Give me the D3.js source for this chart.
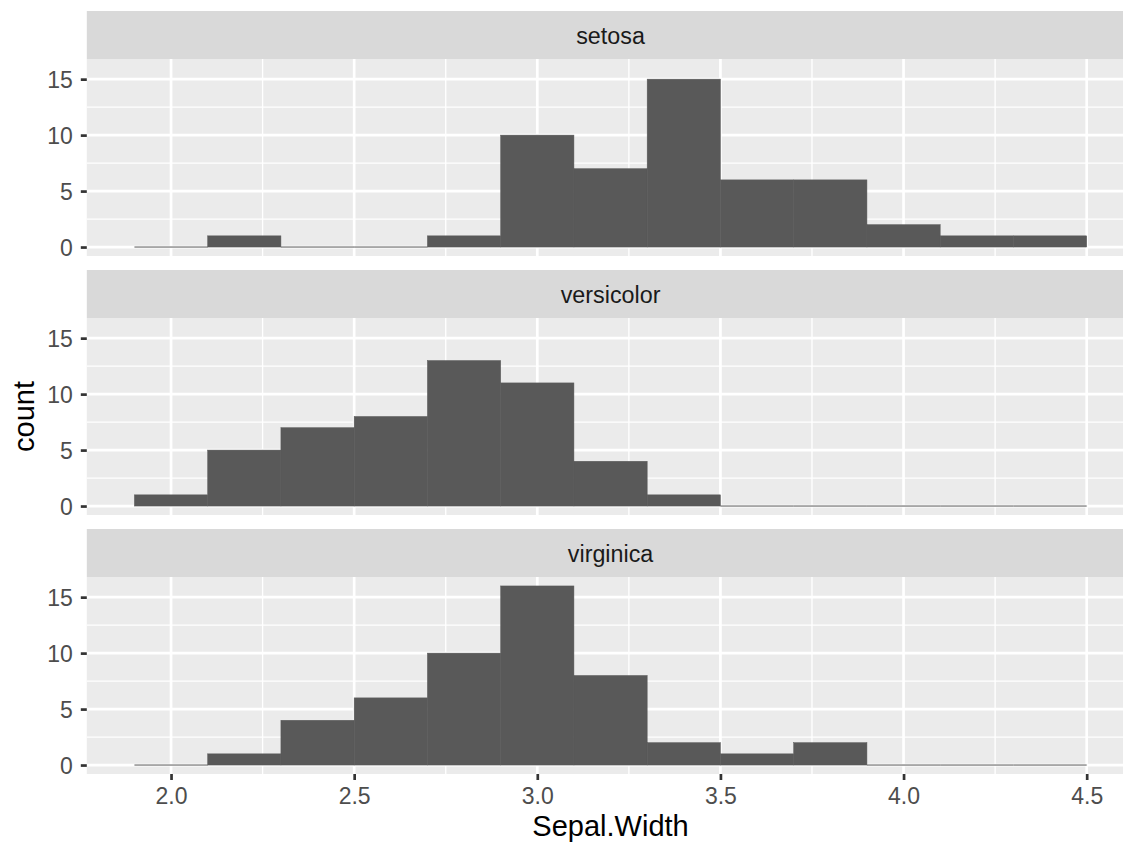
<!DOCTYPE html>
<html>
<head>
<meta charset="utf-8">
<script src="https://cdn.jsdelivr.net/npm/d3@7"></script>
<style>
  body { margin: 0; background: #fff; }
  svg { display: block; font-family: "Liberation Sans", Arial, sans-serif; }
</style>
</head>
<body>
<div id="chart"></div>
<script>
// histogram bins (width 0.2) and counts per species
const breaks = [1.9, 2.1, 2.3, 2.5, 2.7, 2.9, 3.1, 3.3, 3.5, 3.7, 3.9, 4.1, 4.3, 4.5];
const species = ["setosa", "versicolor", "virginica"];
const setosa     = [0, 1, 0, 0, 1, 10, 7, 15, 6, 6, 2, 1, 1];
const versicolor = [1, 5, 7, 8, 13, 11, 4, 1, 0, 0, 0, 0, 0];
const virginica  = [0, 1, 4, 6, 10, 16, 8, 2, 1, 2, 0, 0, 0];
const xTicks = [2.0, 2.5, 3.0, 3.5, 4.0, 4.5];
const yTicks = [0, 5, 10, 15];

const counts = { setosa: setosa, versicolor: versicolor, virginica: virginica };

const width = 1123, height = 843;
const panelLeft = 86.8, panelRight = 1134.3;
const stripH = 48, panelH = 197, gap = 14, marginTop = 11;
const panelMid = (panelLeft + panelRight) / 2;

const x = d3.scaleLinear().domain([1.77, 4.63]).range([panelLeft, panelRight]);

const svg = d3.select("#chart").append("svg")
    .attr("width", width)
    .attr("height", height);

species.forEach(function(name, i) {
  const stripTop = marginTop + i * (stripH + panelH + gap);
  const pTop = stripTop + stripH;
  const pBottom = pTop + panelH;
  const y = d3.scaleLinear().domain([-0.8, 16.8]).range([pBottom, pTop]);

  // strip
  svg.append("rect")
    .attr("x", panelLeft).attr("y", stripTop)
    .attr("width", panelRight - panelLeft).attr("height", stripH)
    .attr("fill", "#D9D9D9");
  svg.append("text")
    .attr("x", panelMid)
    .attr("y", stripTop + stripH / 2 + 8.5)
    .attr("text-anchor", "middle")
    .attr("font-size", 23.3)
    .attr("fill", "#1A1A1A")
    .text(name);

  // panel background
  svg.append("rect")
    .attr("x", panelLeft).attr("y", pTop)
    .attr("width", panelRight - panelLeft).attr("height", panelH)
    .attr("fill", "#EBEBEB");

  const g = svg.append("g");
  // minor grid
  const xMinor = [1.75, 2.25, 2.75, 3.25, 3.75, 4.25, 4.75].filter(d => d > 1.77 && d < 4.63);
  const yMinor = [2.5, 7.5, 12.5];
  g.selectAll(".xminor").data(xMinor).enter().append("line")
    .attr("x1", d => x(d)).attr("x2", d => x(d))
    .attr("y1", pTop).attr("y2", pBottom)
    .attr("stroke", "#fff").attr("stroke-width", 1.35);
  g.selectAll(".yminor").data(yMinor).enter().append("line")
    .attr("x1", panelLeft).attr("x2", panelRight)
    .attr("y1", d => y(d)).attr("y2", d => y(d))
    .attr("stroke", "#fff").attr("stroke-width", 1.35);
  // major grid
  g.selectAll(".xmajor").data(xTicks).enter().append("line")
    .attr("x1", d => x(d)).attr("x2", d => x(d))
    .attr("y1", pTop).attr("y2", pBottom)
    .attr("stroke", "#fff").attr("stroke-width", 2.7);
  g.selectAll(".ymajor").data(yTicks).enter().append("line")
    .attr("x1", panelLeft).attr("x2", panelRight)
    .attr("y1", d => y(d)).attr("y2", d => y(d))
    .attr("stroke", "#fff").attr("stroke-width", 2.7);

  // bars
  const bins = counts[name].map((c, j) => ({ x0: breaks[j], x1: breaks[j + 1], count: c }));
  g.selectAll(".bar").data(bins.filter(d => d.count > 0)).enter().append("rect")
    .attr("x", d => x(d.x0))
    .attr("width", d => x(d.x1) - x(d.x0))
    .attr("y", d => y(d.count))
    .attr("height", d => y(0) - y(d.count))
    .attr("fill", "#595959")
    .attr("stroke", "#595959")
    .attr("stroke-width", 0.5);
  g.selectAll(".zero").data(bins.filter(d => d.count === 0)).enter().append("line")
    .attr("x1", d => x(d.x0)).attr("x2", d => x(d.x1))
    .attr("y1", y(0)).attr("y2", y(0))
    .attr("stroke", "#595959").attr("stroke-width", 1);

  // y axis
  const ya = svg.append("g")
    .attr("transform", "translate(" + panelLeft + ",0)")
    .call(d3.axisLeft(y).tickValues(yTicks).tickSize(6).tickPadding(8).tickFormat(d3.format("d")));
  ya.select(".domain").remove();
  ya.selectAll(".tick line").attr("stroke", "#333333").attr("stroke-width", 2.7);
  ya.selectAll(".tick text").attr("fill", "#4D4D4D").attr("font-size", 23)
    .attr("font-family", "Liberation Sans, Arial, sans-serif").attr("dy", "0.36em");

  if (i === species.length - 1) {
    const xa = svg.append("g")
      .attr("transform", "translate(0," + pBottom + ")")
      .call(d3.axisBottom(x).tickValues(xTicks).tickSize(6).tickPadding(8).tickFormat(d3.format(".1f")));
    xa.select(".domain").remove();
    xa.selectAll(".tick line").attr("stroke", "#333333").attr("stroke-width", 2.7);
    xa.selectAll(".tick text").attr("fill", "#4D4D4D").attr("font-size", 23)
      .attr("font-family", "Liberation Sans, Arial, sans-serif");
  }
});

// axis titles
svg.append("text")
  .attr("x", panelMid)
  .attr("y", 836)
  .attr("text-anchor", "middle")
  .attr("font-size", 29)
  .attr("fill", "#000")
  .text("Sepal.Width");

svg.append("text")
  .attr("transform", "translate(34,416.5) rotate(-90)")
  .attr("text-anchor", "middle")
  .attr("font-size", 29)
  .attr("fill", "#000")
  .text("count");
</script>
</body>
</html>
